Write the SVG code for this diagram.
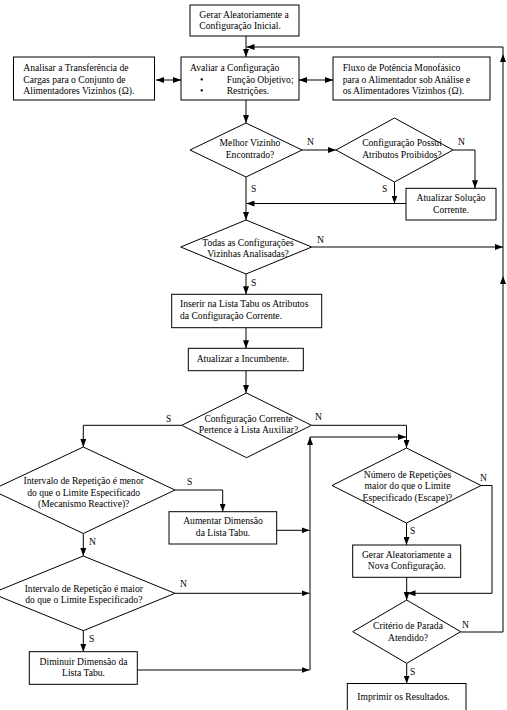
<svg xmlns="http://www.w3.org/2000/svg" width="507" height="710" viewBox="0 0 507 710">
<defs>
<marker id="ah" viewBox="0 0 8 6" refX="8" refY="3" markerWidth="8" markerHeight="6" markerUnits="userSpaceOnUse" orient="auto-start-reverse">
<path d="M0,0 L8,3 L0,6 Z" fill="#000"/>
</marker>
</defs>
<style>
.bx{fill:#fff;stroke:#000;stroke-width:1}
.t{font-family:"Liberation Serif","Times New Roman",serif;font-size:9.6px;fill:#000}
.c{text-anchor:middle}
.ln{fill:none;stroke:#000;stroke-width:1}
.ar{fill:none;stroke:#000;stroke-width:1;marker-end:url(#ah)}
.ar2{fill:none;stroke:#000;stroke-width:1;marker-end:url(#ah);marker-start:url(#ah)}
</style>
<rect width="507" height="710" fill="#fff"/>

<g id="connectors">
<path class="ar" d="M246,36 V57"/>
<path class="ar2" d="M156,80 H181"/>
<path class="ar2" d="M299,80 H333"/>
<path class="ar" d="M246,100 V123"/>
<path class="ar" d="M302,150 H336"/>
<path class="ar" d="M453,150 H475 V188.3"/>
<path class="ar" d="M394.5,182 V203.5"/>
<path class="ar" d="M406,203.5 H246.5"/>
<path class="ar" d="M246,177 V220"/>
<path class="ar" d="M311.7,247 H503"/>
<path class="ar" d="M460.7,632 H503 V276"/>
<path class="ar" d="M503,276 V54"/>
<path class="ar" d="M503,54 V47 H246.5"/>
<path class="ar" d="M246,274 V294.3"/>
<path class="ar" d="M246,327.7 V348.3"/>
<path class="ar" d="M246,370.7 V393"/>
<path class="ar" d="M181.7,425.3 H83.3 V447"/>
<path class="ar" d="M311.5,425.3 H406.5 V448"/>
<path class="ar" d="M310,670 V437"/>
<path class="ar" d="M310,437 H406"/>
<path class="ar" d="M175,490 H222.7 V511.7"/>
<path class="ar" d="M276.7,530.3 H309.5"/>
<path class="ar" d="M83.3,533.5 V556"/>
<path class="ar" d="M175,593.3 H309.5"/>
<path class="ar" d="M83.3,630.7 V651.7"/>
<path class="ar" d="M137.3,670 H309.5"/>
<path class="ar" d="M481,485.5 H492 V593.3 H407.5"/>
<path class="ar" d="M406.5,523 V545"/>
<path class="ar" d="M406.7,577.3 V600"/>
<path class="ar" d="M406.7,663.3 V683.5"/>
<text class="t" x="307" y="145">N</text>
<text class="t" x="458" y="145">N</text>
<text class="t" x="251" y="192">S</text>
<text class="t" x="382" y="192">S</text>
<text class="t" x="317" y="243">N</text>
<text class="t" x="251" y="286">S</text>
<text class="t" x="166" y="422">S</text>
<text class="t" x="315" y="420">N</text>
<text class="t" x="187" y="485">S</text>
<text class="t" x="89" y="545">N</text>
<text class="t" x="180" y="587">N</text>
<text class="t" x="89" y="642">S</text>
<text class="t" x="480" y="481">N</text>
<text class="t" x="410" y="534">S</text>
<text class="t" x="462" y="628">N</text>
<text class="t" x="410" y="675">S</text>
</g>

<g id="n_start">
<rect class="bx" x="190" y="5" width="109" height="31"/>
<text class="t" x="199.3" y="17.5">Gerar Aleatoriamente a</text>
<text class="t" x="199.3" y="29">Configuração Inicial.</text>
</g>

<g id="n_eval">
<rect class="bx" x="181" y="57" width="118" height="43"/>
<text class="t" x="190" y="71">Avaliar a Configuração</text>
<text class="t" x="200" y="82.7">•</text>
<text class="t" x="226.7" y="82.7">Função Objetivo;</text>
<text class="t" x="200" y="94.3">•</text>
<text class="t" x="226.7" y="94.3">Restrições.</text>
</g>

<g id="n_left">
<rect class="bx" x="13.5" y="57" width="141" height="43"/>
<text class="t" x="23.3" y="71">Analisar a Transferência de</text>
<text class="t" x="23.3" y="82.7">Cargas para o Conjunto de</text>
<text class="t" x="23.3" y="94.3">Alimentadores Vizinhos (Ω).</text>
</g>

<g id="n_right">
<rect class="bx" x="333" y="57" width="157" height="43"/>
<text class="t" x="342.7" y="71">Fluxo de Potência Monofásico</text>
<text class="t" x="342.7" y="82.7">para o Alimentador sob Análise e</text>
<text class="t" x="342.7" y="94.3">os Alimentadores Vizinhos (Ω).</text>
</g>

<g id="d_melhor">
<polygon class="bx" points="246,123 302,150 246,177 190,150"/>
<text class="t c" x="250" y="146">Melhor Vizinho</text>
<text class="t c" x="250" y="157.5">Encontrado?</text>
</g>

<g id="d_proibidos">
<polygon class="bx" points="394.5,118 453,150 394.5,182 336,150"/>
<text class="t c" x="402" y="146">Configuração Possui</text>
<text class="t c" x="402" y="157.5">Atributos Proibidos?</text>
</g>

<g id="n_atualizar_sol">
<rect class="bx" x="406" y="188.3" width="90" height="31.7"/>
<text class="t c" x="451" y="201">Atualizar Solução</text>
<text class="t c" x="451" y="212.5">Corrente.</text>
</g>

<g id="d_todas">
<polygon class="bx" points="246,220 311.7,247 246,274 180.7,247"/>
<text class="t c" x="248" y="245.5">Todas as Configurações</text>
<text class="t c" x="248" y="256.5">Vizinhas Analisadas?</text>
</g>

<g id="n_tabu">
<rect class="bx" x="171.7" y="294.3" width="150" height="33.4"/>
<text class="t" x="180" y="307.3">Inserir na Lista Tabu os Atributos</text>
<text class="t" x="180" y="318.7">da Configuração Corrente.</text>
</g>

<g id="n_incumbente">
<rect class="bx" x="188.3" y="348.3" width="115" height="22.4"/>
<text class="t" x="196.7" y="362.3">Atualizar a Incumbente.</text>
</g>

<g id="d_auxiliar">
<polygon class="bx" points="246.5,393 311.5,425.3 246.5,457.7 181.7,425.3"/>
<text class="t c" x="248.5" y="421.7">Configuração Corrente</text>
<text class="t c" x="248.5" y="433.3">Pertence à Lista Auxiliar?</text>
</g>

<g id="d_menor">
<polygon class="bx" points="83.3,447 175,490 83.3,533.5 -8.4,490"/>
<text class="t c" x="83.7" y="484">Intervalo de Repetição é menor</text>
<text class="t c" x="83.7" y="495.5">do que o Limite Especificado</text>
<text class="t c" x="83.7" y="507">(Mecanismo Reactive)?</text>
</g>

<g id="n_aumentar">
<rect class="bx" x="169" y="511.7" width="107.7" height="32.3"/>
<text class="t c" x="223" y="524.3">Aumentar Dimensão</text>
<text class="t c" x="223" y="535.7">da Lista Tabu.</text>
</g>

<g id="d_maior">
<polygon class="bx" points="83.3,556 175,593.3 83.3,630.7 -8.4,593.3"/>
<text class="t c" x="83.8" y="591.7">Intervalo de Repetição é maior</text>
<text class="t c" x="83.8" y="603.3">do que o Limite Especificado?</text>
</g>

<g id="n_diminuir">
<rect class="bx" x="29.3" y="651.7" width="108" height="32.6"/>
<text class="t c" x="83.5" y="664.7">Diminuir Dimensão da</text>
<text class="t c" x="83.5" y="676.2">Lista Tabu.</text>
</g>

<g id="d_escape">
<polygon class="bx" points="406.5,448 481,485.5 406.5,523 332,485.5"/>
<text class="t c" x="407.5" y="477.5">Número de Repetições</text>
<text class="t c" x="407.5" y="489">maior do que o Limite</text>
<text class="t c" x="407.5" y="500.5">Especificado (Escape)?</text>
</g>

<g id="n_nova">
<rect class="bx" x="352.7" y="545" width="108" height="32.3"/>
<text class="t c" x="406.7" y="557.5">Gerar Aleatoriamente a</text>
<text class="t c" x="406.7" y="569">Nova Configuração.</text>
</g>

<g id="d_parada">
<polygon class="bx" points="406.7,600 460.7,631.7 406.7,663.3 352.7,631.7"/>
<text class="t c" x="408" y="629.3">Critério de Parada</text>
<text class="t c" x="408" y="640.7">Atendido?</text>
</g>

<g id="n_imprimir">
<rect class="bx" x="347.3" y="683.5" width="118.7" height="30"/>
<text class="t" x="357.3" y="699.5">Imprimir os Resultados.</text>
</g>
</svg>
